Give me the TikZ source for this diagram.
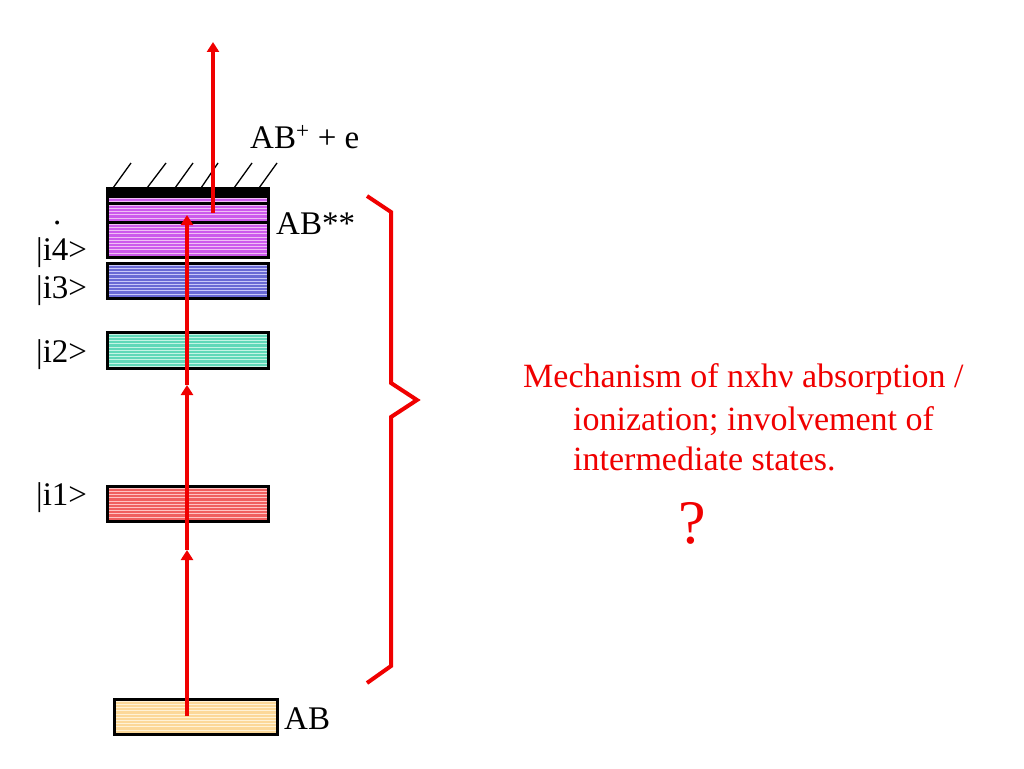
\documentclass[tikz,border=0pt]{standalone}
\usepackage{fontspec}
\setmainfont{Liberation Serif}
\usetikzlibrary{arrows.meta,calc}
\definecolor{redline}{RGB}{240,0,0}
\definecolor{magbase}{RGB}{204,90,236}
\definecolor{maglite}{RGB}{240,190,245}
\definecolor{bluebase}{RGB}{106,106,212}
\definecolor{bluelite}{RGB}{200,200,248}
\definecolor{tealbase}{RGB}{96,216,184}
\definecolor{teallite}{RGB}{196,244,228}
\definecolor{redbase}{RGB}{240,96,96}
\definecolor{redlite}{RGB}{255,196,196}
\definecolor{orgbase}{RGB}{252,216,152}
\definecolor{orglite}{RGB}{255,242,214}
\begin{document}
\begin{tikzpicture}[x=1pt,y=-1pt,
  level/.style n args={2}{draw=black, line width=3pt, fill=#1, rectangle, inner sep=0pt,
    minimum width=161pt,
    path picture={\foreach \k in {1,...,12}{\draw[#2, line width=0.7pt]
      ($(path picture bounding box.north west)+(-5,\k*3.2-1)$) -- ++(300,0);}}},
  lab/.style={anchor=base west, inner sep=0pt, font=\fontsize{33}{38}\selectfont},
  redtxt/.style={anchor=base west, inner sep=0pt, text=redline, font=\fontsize{34}{40}\selectfont},
  photon/.style={draw=redline, line width=4pt, -{Triangle[width=12pt,length=10pt]}},
  hatch/.style={black, line width=1.3pt}
]
\useasboundingbox (0,0) rectangle (1024,768);
\fill[white] (0,0) rectangle (1024,768);

% energy levels
\node[level={orgbase}{orglite}, minimum height=35pt, minimum width=163pt] (ab) at (196,716.5) {};
\node[level={redbase}{redlite}, minimum height=35pt] (i1) at (187.5,503.5) {};
\node[level={tealbase}{teallite}, minimum height=36pt] (i2) at (187.5,350) {};
\node[level={bluebase}{bluelite}, minimum height=35pt] (i3) at (187.5,280.5) {};
\node[level={magbase}{maglite}, minimum height=35pt] (i4) at (187.5,239.5) {};
\node[level={magbase}{maglite}, minimum height=19pt] (i5) at (187.5,212.5) {};
\node[level={magbase}{maglite}, minimum height=7pt] (i6) at (187.5,199.5) {};
\node[draw=black, fill=black, rectangle, inner sep=0pt, minimum width=163pt, minimum height=9pt] (lim) at (187.5,191.5) {};

% hatching of ionization limit
\foreach \a/\b in {113/131,147/166,175/193,201/218,234/252,259/277}
  \draw[hatch] (\a,188) -- (\b,163);

% photon arrows
\coordinate (p0) at (187,716);
\coordinate (p1) at (187,550);
\coordinate (p2) at (187,385);
\coordinate (p3) at (187,215);
\coordinate (q0) at (213,213);
\coordinate (q1) at (213,42);
\draw[photon] (p0) -- (p1);
\draw[photon] (p1) -- (p2);
\draw[photon] (p2) -- (p3);
\draw[photon] (q0) -- (q1);

% brace
\coordinate (b0) at (367,196);
\coordinate (b1) at (391,212);
\coordinate (b2) at (391,383);
\coordinate (b3) at (417,400);
\coordinate (b4) at (391,417);
\coordinate (b5) at (391,666);
\coordinate (b6) at (367,683);
\draw[redline, line width=4pt] (b0) -- (b1) -- (b2) -- (b3) -- (b4) -- (b5) -- (b6);

% labels
\node[lab] (tion) at (250,148) {AB\textsuperscript{+} + e};
\node[lab] (tabss) at (276,234) {AB**};
\node[lab] (tdots) at (53,224) {.};
\node[lab] (ti4) at (36,260) {|i4>};
\node[lab] (ti3) at (36,298) {|i3>};
\node[lab] (ti2) at (36,362) {|i2>};
\node[lab] (ti1) at (36,505) {|i1>};
\node[lab] (tab) at (284,729) {AB};

\node[redtxt] (m1) at (523,387) {Mechanism of nxhν absorption /};
\node[redtxt] (m2) at (573,430) {ionization; involvement of};
\node[redtxt] (m3) at (573,470) {intermediate states.};
\node[anchor=base, inner sep=0pt, text=redline, font=\fontsize{62}{70}\selectfont] (q) at (692,543) {?};
\end{tikzpicture}
\end{document}
